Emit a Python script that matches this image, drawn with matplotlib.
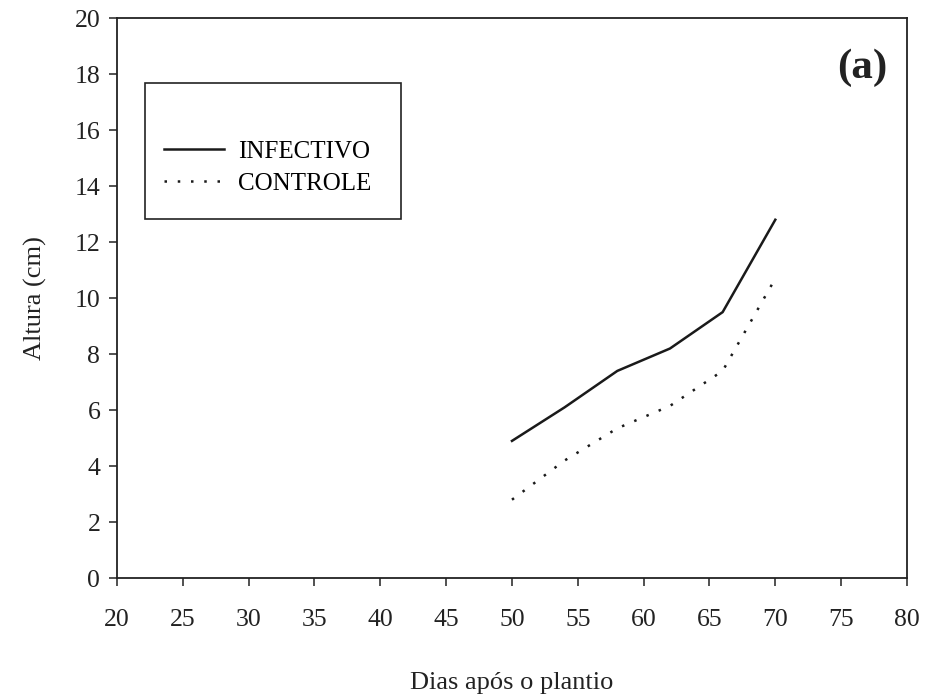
import matplotlib
matplotlib.use("Agg")
import matplotlib.pyplot as plt
from matplotlib.patches import Rectangle

# dias apos o plantio e altura (cm)
dias = [50, 54, 58, 62, 66, 70]
infectivo = [4.9, 6.1, 7.4, 8.2, 9.5, 12.8]
controle = [2.8, 4.2, 5.35, 6.15, 7.4, 10.7]

xticks = list(range(20, 85, 5))
yticks = list(range(0, 22, 2))

plt.rcParams['font.family'] = ['Liberation Serif', 'DejaVu Serif']

fig = plt.figure(figsize=(9.33, 6.99), dpi=100)
ax = fig.add_axes([0.1254, 0.173, 0.8467, 0.801])

l1, = ax.plot(dias, infectivo, color='#1a1a1a', lw=1.8, label='INFECTIVO')
l2, = ax.plot(dias, controle, color='#1a1a1a', lw=1.8, linestyle=(0, (1, 4.3)), label='CONTROLE')

ax.set_xlim(20, 80)
ax.set_ylim(0, 20)
ax.set_xticks(xticks)
ax.set_yticks(yticks)
ax.tick_params(direction='out', length=6, width=1.1, labelsize=18.5, colors='#222222')
ax.tick_params(axis='x', pad=16)
ax.tick_params(axis='y', pad=6)
for s in ax.spines.values():
    s.set_linewidth(1.3)
    s.set_color('#222222')

ax.set_xlabel('Dias após o plantio', fontsize=19, labelpad=30, color='#222222')
ax.set_ylabel('Altura (cm)', fontsize=19, labelpad=20, color='#222222')

# caixa da legenda (com espaco vazio em cima)
ax.add_patch(Rectangle((0.035, 0.641), 0.325, 0.243, transform=ax.transAxes,
                       fill=False, lw=1.2, edgecolor='#222222'))
ax.legend(handles=[l1, l2], loc='upper left', bbox_to_anchor=(0.047, 0.8),
          frameon=False, fontsize=18, handlelength=2.4, handletextpad=0.55,
          labelspacing=0.4, borderaxespad=0)

ax.text(0.943, 0.912, '(a)', transform=ax.transAxes, fontsize=31,
        fontweight='bold', ha='center', va='center', color='#222222')

fig.savefig('out.png', dpi=100)
